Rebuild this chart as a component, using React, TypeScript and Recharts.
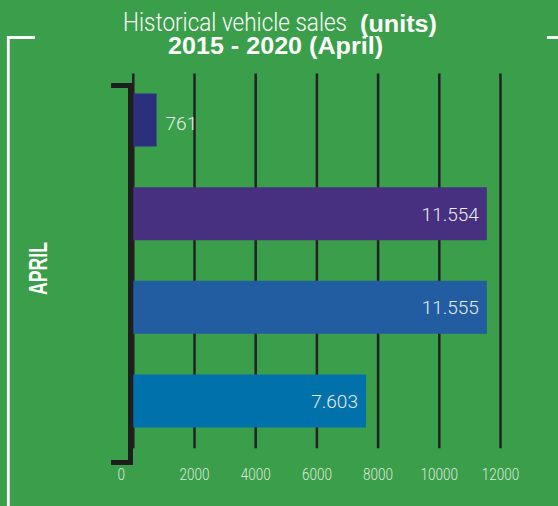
import React from 'react';
import { BarChart, Bar, XAxis, YAxis, CartesianGrid, Cell, LabelList } from 'recharts';

// April sales per year (units), top bar first
const categories = ['2020', '2019', '2018', '2017'];
const sales = [761, 11554, 11555, 7603];
const barColors = ['#2c307c', '#47307f', '#225ca1', '#0071ab'];
const xTicks = [0, 2000, 4000, 6000, 8000, 10000, 12000];

const BG = '#3b9e4a';
const LIGHT = "'Roboto', 'Liberation Sans', sans-serif";
const BOLD = "'Liberation Sans', Arial, sans-serif";

const data = categories.map((name, i) => ({ name, value: sales[i] }));

// thousands with a dot, as in the source
function fmt(v: number): string {
  return String(v).replace(/\B(?=(\d{3})+(?!\d))/g, '.');
}

function Tick(props: any) {
  const { x, y, payload } = props;
  const label = String(payload.value);
  const dx = payload.value === 0 ? -12 : 0;
  return (
    <text
      x={x + dx}
      y={y + 24}
      textAnchor="middle"
      fill="#dfe9df"
      fontFamily={LIGHT}
      fontWeight={300}
      fontSize={16}
      textLength={label.length * 7.5}
      lengthAdjust="spacingAndGlyphs"
    >
      {label}
    </text>
  );
}

function ValueLabel(props: any) {
  const { x, y, width, height, value } = props;
  const outside = width < 60;
  return (
    <text
      x={outside ? x + width + 9 : x + width - 8}
      y={y + height / 2 + (outside ? 10 : 7)}
      textAnchor={outside ? 'start' : 'end'}
      fill="#e8edf1"
      fontFamily={LIGHT}
      fontWeight={300}
      fontSize={19}
    >
      {fmt(value)}
    </text>
  );
}

export default function App() {
  return (
    <div style={{ position: 'fixed', left: 0, top: 0, width: 558, height: 506, background: BG, overflow: 'hidden' }}>
      <BarChart
        width={558}
        height={506}
        data={data}
        layout="vertical"
        margin={{ top: 73.5, right: 57.5, bottom: 27.8, left: 133.3 }}
        barSize={53}
      >
        <CartesianGrid horizontal={false} stroke="#222222" strokeWidth={2.5} />
        <XAxis
          type="number"
          domain={[0, 12000]}
          ticks={xTicks}
          axisLine={false}
          tickLine={false}
          height={30}
          tick={<Tick />}
          interval={0}
        />
        <YAxis type="category" dataKey="name" hide />
        <Bar dataKey="value" isAnimationActive={false}>
          {data.map((d, i) => (
            <Cell key={d.name} fill={barColors[i]} />
          ))}
          <LabelList dataKey="value" content={<ValueLabel />} />
        </Bar>
      </BarChart>

      <svg width={558} height={506} style={{ position: 'absolute', left: 0, top: 0, pointerEvents: 'none' }}>
        {/* title */}
        <text x={123} y={31} fill="#ffffff" fontFamily={LIGHT} fontWeight={300} fontSize={25}
          textLength={224} lengthAdjust="spacingAndGlyphs">Historical vehicle sales</text>
        <text x={360} y={31.5} fill="#ffffff" fontFamily={BOLD} fontWeight="bold" fontSize={23}
          textLength={77} lengthAdjust="spacingAndGlyphs">(units)</text>
        <text x={168} y={54.3} fill="#ffffff" fontFamily={BOLD} fontWeight="bold" fontSize={24}
          textLength={215} lengthAdjust="spacingAndGlyphs">2015 - 2020 (April)</text>

        {/* white frame corners */}
        <path d="M8.3 506 V37.5 H35" fill="none" stroke="#ffffff" strokeWidth={2.8} />
        <path d="M547 37.5 H558" fill="none" stroke="#ffffff" strokeWidth={2.8} />

        {/* side label */}
        <text transform="translate(47 295) rotate(-90)" fill="#ffffff" fontFamily={BOLD} fontWeight="bold"
          fontSize={25} textLength={53} lengthAdjust="spacingAndGlyphs">APRIL</text>

        {/* black bracket */}
        <path d="M111 85.5 H130.5 V462.5 H111" fill="none" stroke="#1e1e1e" strokeWidth={5} />
      </svg>
    </div>
  );
}
